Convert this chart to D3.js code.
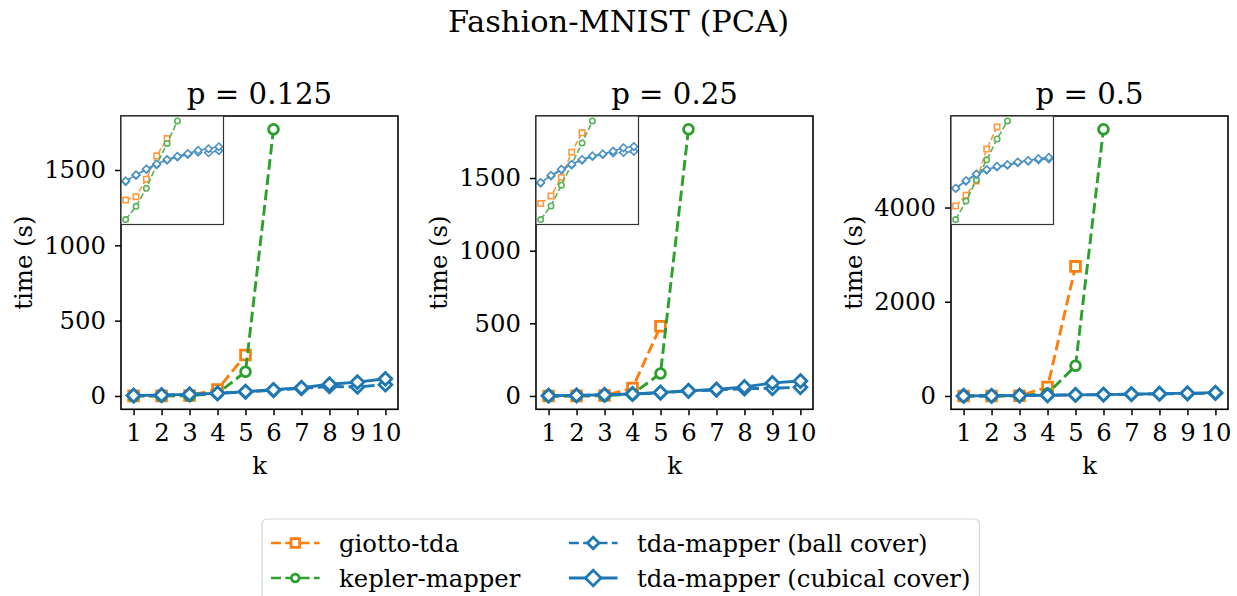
<!DOCTYPE html>
<html>
<head>
<meta charset="utf-8">
<script src="https://cdn.jsdelivr.net/npm/d3@7"></script>
<style>
body { margin: 0; background: #fff; }
text { font-family: "DejaVu Serif", serif; fill: #000; }
</style>
</head>
<body>
<script>
// data (seconds), one inner list per panel
var ks = [1, 2, 3, 4, 5, 6, 7, 8, 9, 10];
var panelTitles = ["p = 0.125", "p = 0.25", "p = 0.5"];
var yTickValues = [[0, 500, 1000, 1500], [0, 500, 1000, 1500], [0, 2000, 4000]];

var giottoTimes = [
  [0.39, 0.56, 3.6, 43, 272],
  [0.17, 0.40, 3.2, 55, 480],
  [0.20, 0.72, 4.1, 190, 2750]
];
var keplerTimes = [
  [0.049, 0.20, 1.36, 17, 161, 1770],
  [0.028, 0.13, 1.34, 14, 155, 1835],
  [0.039, 0.36, 4.6, 52, 640, 5660]
];
var ballTimes = [
  [2.8, 5.4, 10.2, 17, 27, 38, 50, 63, 60, 75],
  [1.7, 3.8, 7.5, 13, 22, 34, 42, 50, 53, 60],
  [1.65, 4.0, 9.0, 15, 22, 27, 37, 44, 52, 58]
];
var cubicalTimes = [
  [3.0, 5.7, 10.6, 18, 29, 41, 55, 78, 92, 114],
  [1.8, 4.0, 8.0, 14, 24, 36, 45, 62, 90, 103],
  [1.7, 4.2, 9.4, 16, 24, 29, 40, 48, 60, 70]
];

var W = 1237, H = 596;
var axLeft = [121, 536, 951], axTop = 116, axW = 277, axH = 293.3;
var insW = 102.5, insH = 108.5;
var fs = 24.3;

var series = [
  {name: "giotto-tda", data: giottoTimes, color: "#ff7f0e", marker: "square", dash: true},
  {name: "kepler-mapper", data: keplerTimes, color: "#2ca02c", marker: "circle", dash: true},
  {name: "tda-mapper (ball cover)", data: ballTimes, color: "#1f77b4", marker: "diamond", dash: true},
  {name: "tda-mapper (cubical cover)", data: cubicalTimes, color: "#1f77b4", marker: "diamond", dash: false}
];

var svg = d3.select("body").append("svg")
    .attr("width", W)
    .attr("height", H);

function markerPath(type, r) {
  if (type === "square") return d3.symbol(d3.symbolSquare, (2 * r) * (2 * r))();
  if (type === "circle") return d3.symbol(d3.symbolCircle, Math.PI * r * r)();
  // matplotlib "D": square turned 45 degrees
  return "M0," + (-r) + "L" + r + ",0L0," + r + "L" + (-r) + ",0Z";
}

// r: marker half-size, lw: line width
function drawSeries(g, s, pts, x, y, r, lw, mlw) {
  var line = d3.line().x(function(d) { return x(d.k); }).y(function(d) { return y(d.v); });
  g.append("path")
    .datum(pts)
    .attr("d", line)
    .attr("fill", "none")
    .attr("stroke", s.color)
    .attr("stroke-width", lw)
    .attr("stroke-dasharray", s.dash ? (3.7 * lw) + "," + (1.6 * lw) : null);
  g.selectAll(null)
    .data(pts)
    .enter().append("path")
    .attr("d", markerPath(s.marker, r))
    .attr("transform", function(d) { return "translate(" + x(d.k) + "," + y(d.v) + ")"; })
    .attr("fill", "#fff")
    .attr("stroke", s.color)
    .attr("stroke-width", mlw);
}

svg.append("text")
    .attr("x", W / 2)
    .attr("y", 32)
    .attr("text-anchor", "middle")
    .style("font-size", "30.5px")
    .text("Fashion-MNIST (PCA)");

panelTitles.forEach(function(title, p) {
  var left = axLeft[p];
  var all = [];
  series.forEach(function(s) { all = all.concat(s.data[p]); });
  var lo = d3.min(all), hi = d3.max(all), pad = 0.05 * (hi - lo);

  var x = d3.scaleLinear().domain([0.55, 10.45]).range([left, left + axW]);
  var y = d3.scaleLinear().domain([lo - pad, hi + pad]).range([axTop + axH, axTop]);

  var clipId = "clip" + p;
  svg.append("clipPath").attr("id", clipId)
    .append("rect").attr("x", left).attr("y", axTop).attr("width", axW).attr("height", axH);

  var g = svg.append("g").attr("clip-path", "url(#" + clipId + ")");
  series.forEach(function(s) {
    var pts = s.data[p].map(function(v, i) { return {k: ks[i], v: v}; });
    drawSeries(g, s, pts, x, y, s.marker === "diamond" ? 6.4 : 4.9, 2.9, 2.8);
  });

  var xAxis = svg.append("g")
    .attr("transform", "translate(0," + (axTop + axH) + ")")
    .call(d3.axisBottom(x).tickValues(ks).tickSize(6).tickPadding(8));
  var yAxis = svg.append("g")
    .attr("transform", "translate(" + left + ",0)")
    .call(d3.axisLeft(y).tickValues(yTickValues[p]).tickFormat(d3.format("d")).tickSize(6).tickPadding(9));
  [xAxis, yAxis].forEach(function(a) {
    a.attr("font-family", null).attr("font-size", null);
    a.select(".domain").remove();
    a.selectAll(".tick line").attr("stroke", "#000").attr("stroke-width", 1.5);
    a.selectAll("text").style("font-size", fs + "px").attr("fill", "#000");
  });

  svg.append("rect")
    .attr("x", left).attr("y", axTop).attr("width", axW).attr("height", axH)
    .attr("fill", "none").attr("stroke", "#000").attr("stroke-width", 1.6);

  svg.append("text")
    .attr("x", left + axW / 2)
    .attr("y", 104)
    .attr("text-anchor", "middle")
    .style("font-size", "29.2px")
    .text(title);

  svg.append("text")
    .attr("x", left + axW / 2)
    .attr("y", 474)
    .attr("text-anchor", "middle")
    .style("font-size", fs + "px")
    .text("k");

  svg.append("text")
    .attr("transform", "translate(" + (left - 98) + "," + (axTop + axH / 2) + ") rotate(-90)")
    .attr("dy", "0.35em")
    .attr("text-anchor", "middle")
    .style("font-size", fs + "px")
    .text("time (s)");

  // log-scale inset in the upper left corner
  var logLo = Math.log10(lo), logHi = Math.log10(hi), lpad = 0.05 * (logHi - logLo);
  var xi = d3.scaleLinear().domain([0.55, 10.45]).range([left, left + insW]);
  var yi = d3.scaleLog().domain([Math.pow(10, logLo - lpad), Math.pow(10, logHi + lpad)])
      .range([axTop + insH, axTop]);

  svg.append("rect")
    .attr("x", left).attr("y", axTop).attr("width", insW).attr("height", insH)
    .attr("fill", "#fff");
  var insClip = "insclip" + p;
  svg.append("clipPath").attr("id", insClip)
    .append("rect").attr("x", left).attr("y", axTop).attr("width", insW).attr("height", insH);
  var gi = svg.append("g").attr("clip-path", "url(#" + insClip + ")").attr("opacity", 0.8);
  series.forEach(function(s) {
    var pts = s.data[p].map(function(v, i) { return {k: ks[i], v: v}; });
    drawSeries(gi, s, pts, xi, yi, s.marker === "diamond" ? 3.7 : 2.7, 1.6, 1.6);
  });
  svg.append("rect")
    .attr("x", left).attr("y", axTop).attr("width", insW).attr("height", insH)
    .attr("fill", "none").attr("stroke", "#333").attr("stroke-width", 1.2);
});

// legend, two columns laid out like matplotlib (handle 2em, pad 0.8em, column gap 2em)
var legend = svg.append("g");
var box = legend.append("rect")
    .attr("y", 519).attr("height", 95)
    .attr("rx", 5)
    .attr("fill", "#fff")
    .attr("stroke", "#d6d6d6")
    .attr("stroke-width", 1.2);

var rowY = [543, 578];
var legendSize = [4.3, 3.9, 5.8, 7.8];
var handleLen = 2 * fs, textPad = 0.8 * fs, colGap = 2 * fs;
var colX = 271, right = 0;
[[0, 1], [2, 3]].forEach(function(col) {
  var widest = 0;
  col.forEach(function(i, row) {
    var s = series[i], ly = rowY[row];
    var lw = s.dash ? 2.7 : 3.1;
    legend.append("line")
      .attr("x1", colX).attr("x2", colX + handleLen).attr("y1", ly).attr("y2", ly)
      .attr("stroke", s.color).attr("stroke-width", lw)
      .attr("stroke-dasharray", s.dash ? "10,4.3" : null);
    legend.append("path")
      .attr("d", markerPath(s.marker, legendSize[i]))
      .attr("transform", "translate(" + (colX + handleLen / 2) + "," + ly + ")")
      .attr("fill", "#fff")
      .attr("stroke", s.color)
      .attr("stroke-width", 2.7);
    var t = legend.append("text")
      .attr("x", colX + handleLen + textPad).attr("y", ly)
      .attr("dy", "0.35em")
      .style("font-size", fs + "px")
      .text(s.name);
    widest = Math.max(widest, t.node().getComputedTextLength());
  });
  right = colX + handleLen + textPad + widest;
  colX = right + colGap;
});
box.attr("x", 262).attr("width", right + 9 - 262);
</script>
</body>
</html>
